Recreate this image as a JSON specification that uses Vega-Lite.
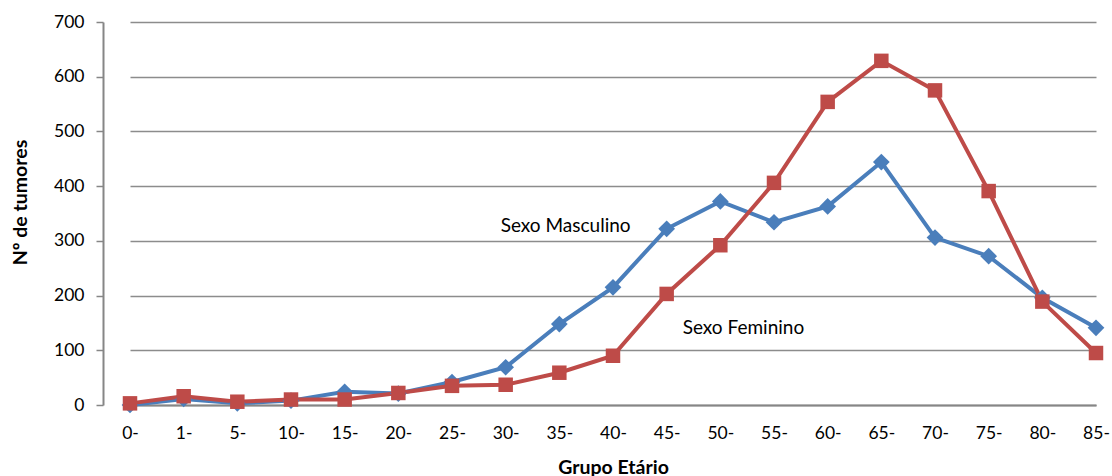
{
  "$schema": "https://vega.github.io/schema/vega-lite/v6.json",
  "autosize": "none",
  "width": 1009,
  "height": 383,
  "padding": {"left": 103, "top": 22, "right": 0, "bottom": 71},
  "background": "white",
  "config": {
    "view": {"stroke": null},
    "font": "Lato",
    "axis": {"labelFont": "Lato", "titleFont": "Lato", "labelColor": "#000", "titleColor": "#000"}
  },
  "datasets": {
    "main": [
      {"grupo": "0-", "sexo": "Masculino", "n": 0}, {"grupo": "0-", "sexo": "Feminino", "n": 3},
      {"grupo": "1-", "sexo": "Masculino", "n": 11}, {"grupo": "1-", "sexo": "Feminino", "n": 16},
      {"grupo": "5-", "sexo": "Masculino", "n": 3}, {"grupo": "5-", "sexo": "Feminino", "n": 6},
      {"grupo": "10-", "sexo": "Masculino", "n": 8}, {"grupo": "10-", "sexo": "Feminino", "n": 10},
      {"grupo": "15-", "sexo": "Masculino", "n": 24}, {"grupo": "15-", "sexo": "Feminino", "n": 10},
      {"grupo": "20-", "sexo": "Masculino", "n": 21}, {"grupo": "20-", "sexo": "Feminino", "n": 22},
      {"grupo": "25-", "sexo": "Masculino", "n": 42}, {"grupo": "25-", "sexo": "Feminino", "n": 35},
      {"grupo": "30-", "sexo": "Masculino", "n": 69}, {"grupo": "30-", "sexo": "Feminino", "n": 37},
      {"grupo": "35-", "sexo": "Masculino", "n": 148}, {"grupo": "35-", "sexo": "Feminino", "n": 59},
      {"grupo": "40-", "sexo": "Masculino", "n": 215}, {"grupo": "40-", "sexo": "Feminino", "n": 90},
      {"grupo": "45-", "sexo": "Masculino", "n": 322}, {"grupo": "45-", "sexo": "Feminino", "n": 203},
      {"grupo": "50-", "sexo": "Masculino", "n": 372}, {"grupo": "50-", "sexo": "Feminino", "n": 292},
      {"grupo": "55-", "sexo": "Masculino", "n": 334}, {"grupo": "55-", "sexo": "Feminino", "n": 406},
      {"grupo": "60-", "sexo": "Masculino", "n": 363}, {"grupo": "60-", "sexo": "Feminino", "n": 554},
      {"grupo": "65-", "sexo": "Masculino", "n": 444}, {"grupo": "65-", "sexo": "Feminino", "n": 629},
      {"grupo": "70-", "sexo": "Masculino", "n": 306}, {"grupo": "70-", "sexo": "Feminino", "n": 575},
      {"grupo": "75-", "sexo": "Masculino", "n": 272}, {"grupo": "75-", "sexo": "Feminino", "n": 391},
      {"grupo": "80-", "sexo": "Masculino", "n": 196}, {"grupo": "80-", "sexo": "Feminino", "n": 189},
      {"grupo": "85-", "sexo": "Masculino", "n": 141}, {"grupo": "85-", "sexo": "Feminino", "n": 95}
    ]
  },
  "encoding": {
    "x": {
      "field": "grupo", "type": "ordinal", "sort": null,
      "scale": {"type": "point", "range": [27, 993], "padding": 0},
      "axis": {
        "title": "Grupo Etário", "titleFontSize": 19.5, "titleFontWeight": "bold",
        "titleX": 510, "titleY": 62, "titleAlign": "center", "titleBaseline": "middle",
        "labelAngle": 0, "labelFontSize": 17.5, "labelPadding": 19, "ticks": false,
        "domainColor": "#868686", "domainWidth": 2, "grid": false
      }
    },
    "y": {
      "field": "n", "type": "quantitative",
      "scale": {"domain": [0, 700], "nice": false},
      "axis": {
        "title": "Nº de tumores", "titleFontSize": 19.5, "titleFontWeight": "bold",
        "titleX": -83, "titleY": 180, "titleAlign": "center", "titleBaseline": "middle", "titleAngle": -90,
        "values": [0, 100, 200, 300, 400, 500, 600, 700],
        "labelFontSize": 17.5, "labelPadding": 12, "tickSize": 7, "tickColor": "#868686", "tickWidth": 1.5,
        "domainColor": "#868686", "domainWidth": 2,
        "grid": true, "gridColor": "#8c8c8c", "gridWidth": 1.6
      }
    }
  },
  "layer": [
    {
      "data": {"name": "main"},
      "mark": {"type": "line", "strokeWidth": 4},
      "encoding": {
        "color": {"field": "sexo", "type": "nominal", "scale": {"domain": ["Masculino", "Feminino"], "range": ["#4A7EBB", "#BE4B48"]}, "legend": null}
      }
    },
    {
      "data": {"name": "main"},
      "transform": [{"filter": "datum.sexo === 'Masculino'"}],
      "mark": {"type": "point", "shape": "diamond", "filled": true, "size": 280, "color": "#4A7EBB", "opacity": 1}
    },
    {
      "data": {"name": "main"},
      "transform": [{"filter": "datum.sexo === 'Feminino'"}],
      "mark": {"type": "square", "size": 210, "color": "#BE4B48", "opacity": 1}
    },
    {
      "data": {"values": [{"grupo": "30-", "n": 328, "label": "Sexo Masculino"}]},
      "mark": {"type": "text", "align": "left", "baseline": "middle", "fontSize": 19, "dx": -5, "color": "#000"},
      "encoding": {"text": {"field": "label"}}
    },
    {
      "data": {"values": [{"grupo": "45-", "n": 140, "label": "Sexo Feminino"}]},
      "mark": {"type": "text", "align": "left", "baseline": "middle", "fontSize": 19, "dx": 16, "color": "#000"},
      "encoding": {"text": {"field": "label"}}
    }
  ]
}
